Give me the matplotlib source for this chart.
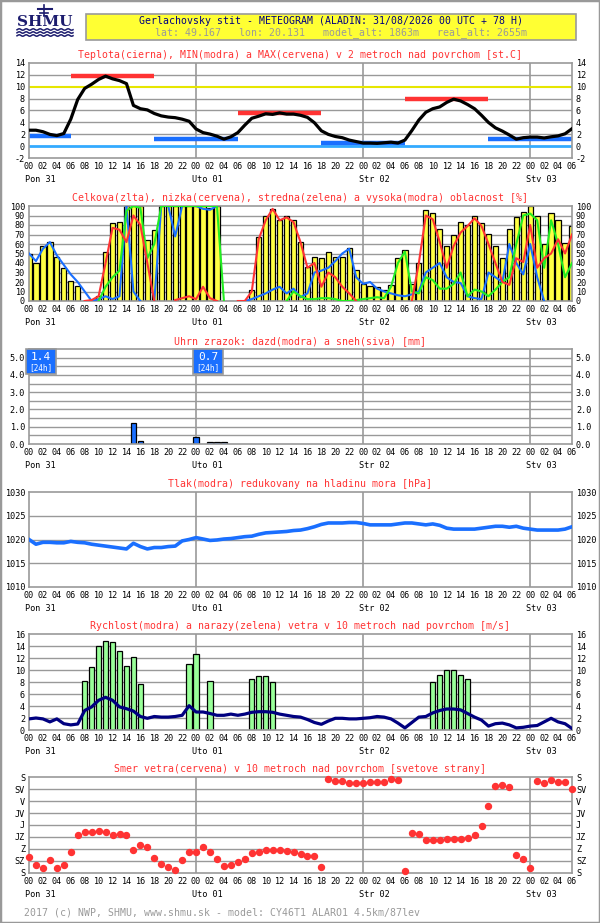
import numpy as np
import matplotlib.pyplot as plt
from matplotlib.patches import Rectangle

# time axis: hourly from 31/08 00 UTC, +78 h
hours = np.arange(79)
hour_ticks = list(range(0, 79, 2))
hour_labels = ['%02d' % (h % 24) for h in hour_ticks]
day_hours = [0, 24, 48, 72]
day_labels = ['Pon 31', 'Uto 01', 'Str 02', 'Stv 03']

# temperature [st.C]
temp = [2.7, 2.7, 2.45, 2.0, 1.8, 2.15, 4.55, 7.85, 9.7, 10.4,
        11.2, 11.75, 11.3, 11.0, 10.5, 6.85, 6.3, 6.1, 5.5, 5.1,
        4.9, 4.8, 4.55, 4.2, 2.9, 2.3, 2.05, 1.7, 1.2, 1.6,
        2.3, 3.55, 4.7, 5.05, 5.45, 5.35, 5.6, 5.4, 5.4, 5.2,
        4.85, 3.95, 2.6, 2.0, 1.65, 1.45, 1.05, 0.8, 0.55, 0.55,
        0.5, 0.6, 0.7, 0.55, 1.05, 2.65, 4.4, 5.7, 6.3, 6.6,
        7.35, 7.9, 7.6, 7.0, 6.3, 5.2, 4.0, 3.1, 2.55, 1.9,
        1.2, 1.45, 1.55, 1.55, 1.4, 1.6, 1.75, 2.1, 2.95]
tmin_from = [0, 18, 42, 66]
tmin_to = [6, 30, 54, 78]
tmin_val = [1.8, 1.2, 0.5, 1.2]
tmax_from = [6, 30, 54]
tmax_to = [18, 42, 66]
tmax_val = [11.7, 5.6, 7.9]

# cloudiness [%]
nan = np.nan
cloud_total = [50, 40, 58, 62, 46, 35, 21, 16, 0, 0,
               5, 52, 82, 83, 100, 100, 100, 64, 75, 100,
               100, 100, 100, 100, 100, 100, 98, 100, 0, 0,
               0, 0, 12, 67, 90, 97, 85, 89, 85, 62,
               36, 46, 45, 52, 46, 46, 56, 33, 18, 16,
               15, 12, 17, 45, 54, 18, 40, 96, 93, 76,
               58, 70, 83, 80, 89, 82, 71, 58, 45, 76,
               88, 94, 100, 90, 60, 93, 85, 61, 79]
cloud_low = [nan, nan, nan, nan, nan, nan, nan, nan, 0, 1,
             5, 40, 77, 75, 62, 90, 80, 40, 0, nan,
             nan, 1, 3, 5, 2, 15, 3, 0, nan, nan,
             0, 0, 10, 65, 85, 97, 85, 88, 83, 62,
             35, 40, 15, 30, 25, 15, 8, 0, nan, nan,
             nan, nan, nan, nan, nan, 0, 40, 90, 86, 62,
             35, 58, 72, 79, 87, 79, 60, 40, 20, 17,
             45, 41, 80, 35, 45, 50, 65, 50, 70]
cloud_mid = [nan, nan, nan, nan, nan, nan, nan, nan, nan, nan,
             0, 15, 25, 32, 95, 100, 98, 45, 60, 100,
             100, 100, 100, 100, 100, 100, 100, 100, 0, nan,
             nan, nan, nan, nan, nan, nan, nan, 0, 10, 5,
             2, 2, 3, 3, 2, 0, 0, 1, 2, 3,
             4, 3, 15, 40, 52, 10, 8, 25, 22, 13,
             13, 18, 30, 5, 12, 10, 5, 12, 20, 25,
             60, 90, 92, 85, 35, 85, 60, 25, 40]
cloud_high = [50, 42, 55, 62, 48, 38, 28, 20, 10, 0,
              2, 5, 2, 5, 100, 10, 0, nan, 0, 100,
              100, 68, 100, 100, 100, 97, 96, 100, nan, nan,
              nan, 0, 2, 5, 8, 12, 15, 8, 13, 4,
              8, 30, 32, 35, 42, 50, 55, 25, 18, 20,
              13, 10, 8, 6, 5, 7, 10, 30, 35, 40,
              25, 20, 19, 5, 3, 2, 30, 25, 20, 60,
              40, 28, 60, 25, 0, nan, nan, nan, nan]

# precipitation [mm]
rain_hours = [15, 16, 24, 26, 27, 28]
rain_mm = [1.2, 0.2, 0.4, 0.1, 0.1, 0.1]
sum_days = [0, 24]
sum_mm = [1.4, 0.7]

# sea level pressure [hPa]
pressure = [1020.0, 1019.0, 1019.4, 1019.4, 1019.3, 1019.3, 1019.6, 1019.4, 1019.3, 1019.0,
            1018.8, 1018.6, 1018.4, 1018.2, 1018.0, 1019.2, 1018.5, 1018.0, 1018.3, 1018.3,
            1018.5, 1018.6, 1019.7, 1020.0, 1020.4, 1020.1, 1019.8, 1019.9, 1020.1, 1020.2,
            1020.4, 1020.6, 1020.7, 1021.1, 1021.4, 1021.5, 1021.6, 1021.7, 1021.9, 1022.0,
            1022.3, 1022.7, 1023.2, 1023.5, 1023.5, 1023.5, 1023.6, 1023.6, 1023.4, 1023.1,
            1023.1, 1023.1, 1023.1, 1023.3, 1023.5, 1023.5, 1023.3, 1023.1, 1023.3, 1023.0,
            1022.4, 1022.2, 1022.2, 1022.2, 1022.2, 1022.4, 1022.6, 1022.8, 1022.8, 1022.6,
            1022.8, 1022.4, 1022.2, 1022.0, 1022.0, 1022.0, 1022.0, 1022.2, 1022.7]

# wind speed and gusts [m/s]
wind = [1.9, 2.05, 1.9, 1.4, 1.9, 1.1, 0.9, 1.05, 3.3, 3.9,
        5.0, 5.5, 5.0, 3.9, 3.6, 3.2, 2.3, 2.0, 2.3, 2.2,
        2.2, 2.3, 2.5, 4.1, 3.05, 3.05, 2.8, 2.5, 2.5, 2.7,
        2.5, 2.7, 3.0, 3.1, 3.1, 3.0, 2.7, 2.5, 2.3, 2.2,
        1.8, 1.3, 1.0, 1.55, 2.0, 2.0, 1.9, 1.9, 2.0, 2.1,
        2.3, 2.2, 1.9, 1.2, 0.4, 1.3, 2.2, 2.3, 2.9, 3.3,
        3.55, 3.55, 3.4, 2.8, 2.2, 1.7, 0.7, 1.1, 1.2, 0.9,
        0.4, 0.5, 0.7, 0.8, 1.4, 2.0, 1.4, 1.1, 0.3]
gust_hours = [8, 9, 10, 11, 12, 13, 14, 15, 16, 23, 24, 26,
              32, 33, 34, 35, 58, 59, 60, 61, 62, 63]
gust = [8.3, 10.5, 14.0, 14.9, 14.7, 13.2, 10.7, 12.3, 7.7, 11.0, 12.7, 8.3,
        8.5, 9.0, 9.0, 8.0, 8.0, 9.3, 10.0, 10.0, 9.3, 8.5]

# wind direction [deg]
wind_dir = [301, 332, 344, 312, 342, 332, 282, 218, 207, 207,
            203, 207, 218, 214, 218, 275, 256, 263, 305, 327,
            339, 351, 312, 282, 282, 263, 282, 310, 336, 332,
            320, 308, 286, 282, 275, 275, 275, 278, 282, 290,
            297, 297, 339, 7, 14, 14, 22, 22, 22, 18,
            18, 18, 7, 11, 355, 210, 214, 237, 237, 237,
            233, 233, 233, 229, 218, 184, 109, 33, 29, 37,
            293, 308, 342, 14, 22, 11, 18, 18, 44]
dir_ticks = [360, 315, 270, 225, 180, 135, 90, 45, 0]
dir_labels = ['S', 'SZ', 'Z', 'JZ', 'J', 'JV', 'V', 'SV', 'S']

GRID = '#999999'
RED = '#ff3333'
BLUE = '#1a6fff'
MONO = 'DejaVu Sans Mono'
TXT = 7.1
TICK = 6.1
W, H = 600, 923
X0, X1 = 29, 572

plt.rcParams['font.family'] = MONO
fig = plt.figure(figsize=(W / 100, H / 100), dpi=100)
fig.patch.set_facecolor('white')


def hx(h):
    return X0 + (X1 - X0) * h / 78.0


def panel(top, bottom, ylim, yticks, ylabels, grid, title):
    ax = fig.add_axes([X0 / W, 1 - bottom / H, (X1 - X0) / W, (bottom - top) / H])
    ax.set_xlim(0, 78)
    ax.set_ylim(*ylim)
    for y in grid:
        ax.axhline(y, color=GRID, lw=1.0, zorder=0)
    for d in day_hours[1:]:
        ax.axvline(d, color=GRID, lw=1.2, zorder=0)
    ax.set_xticks(hour_ticks)
    ax.set_xticklabels(hour_labels)
    ax.set_yticks(yticks)
    ax.set_yticklabels(ylabels)
    ax.tick_params(labelright=True, length=0, labelsize=TICK, pad=2.8)
    for s in ax.spines.values():
        s.set_color(GRID)
        s.set_linewidth(1.2)
    fig.text(0.5, 1 - (top - 8) / H, title, color=RED, fontsize=TXT,
             ha='center', va='center')
    for d, lab in zip(day_hours, day_labels):
        fig.text((hx(d) - 4) / W, 1 - (bottom + 21.5) / H, lab, fontsize=TICK,
                 ha='left', va='center')
    return ax


# header
fig.add_artist(Rectangle((0, 0), 1, 1, transform=fig.transFigure, fill=False,
                         ec=GRID, lw=2.5))
fig.add_artist(Rectangle((86 / W, 1 - 39.5 / H), 490 / W, 26 / H,
                         transform=fig.transFigure, fc='#ffff33', ec=GRID, lw=1.2))
fig.text(331 / W, 1 - 20.5 / H,
         'Gerlachovsky stit - METEOGRAM (ALADIN: 31/08/2026 00 UTC + 78 H)',
         color='#000080', fontsize=TXT, ha='center', va='center')
fig.text(341 / W, 1 - 33 / H,
         'lat: 49.167   lon: 20.131   model_alt: 1863m   real_alt: 2655m',
         color='#999999', fontsize=TXT, ha='center', va='center')

# logo
lg = fig.add_axes([14 / W, 1 - 38 / H, 62 / W, 34 / H])
lg.set_xlim(0, 62)
lg.set_ylim(34, 0)
lg.axis('off')
xs = np.linspace(3, 59, 120)
for yy in (25.5, 28.5, 31.5):
    lg.plot(xs, yy + 0.7 * np.sin(xs * 0.9), color='#1c1c6e', lw=1.1)
lg.text(31, 17.5, 'SHMU', fontsize=11, fontweight='bold', family='DejaVu Serif',
        color='#1c1c6e', ha='center', va='center')
lg.plot([30, 30], [1, 12], color='#1c1c6e', lw=1.2)
lg.plot([24, 38], [5, 5], color='#1c1c6e', lw=1.5)
lg.plot([26, 34], [9, 9], color='#1c1c6e', lw=1.2)

# 1) temperature
ax = panel(62.7, 158.3, (-2, 14), range(-2, 15, 2),
           [str(v) for v in range(-2, 15, 2)], [2, 4, 6, 8, 12],
           'Teplota(cierna), MIN(modra) a MAX(cervena) v 2 metroch nad povrchom [st.C]')
ax.axhline(10, color='#e6e600', lw=1.5, zorder=1)
ax.axhline(0, color='#33aaff', lw=2.0, zorder=1)
ax.hlines(tmin_val, tmin_from, tmin_to, color=BLUE, lw=3.2, zorder=2)
ax.hlines(tmax_val, tmax_from, tmax_to, color=RED, lw=3.2, zorder=2)
ax.plot(hours, temp, color='black', lw=2.3, zorder=3)

# 2) cloudiness
ax = panel(206, 301, (0, 100), range(0, 101, 10),
           [str(v) for v in range(0, 101, 10)], range(10, 100, 10),
           'Celkova(zlta), nizka(cervena), stredna(zelena) a vysoka(modra) oblacnost [%]')
ax.bar(hours, cloud_total, width=0.76, color='#ffff44', edgecolor='black',
       lw=0.9, zorder=2)
ax.plot(hours, cloud_high, color=BLUE, lw=1.5, zorder=3)
ax.plot(hours, cloud_mid, color='#22ee22', lw=1.5, zorder=4)
ax.plot(hours, cloud_low, color=RED, lw=1.5, zorder=5)

# 3) precipitation
ax = panel(349, 444, (0, 5.5), np.arange(0, 5.1, 1.0),
           ['%.1f' % v for v in np.arange(0, 5.1, 1.0)], np.arange(0.5, 5.5, 0.5),
           'Uhrn zrazok: dazd(modra) a sneh(siva) [mm]')
ax.bar(rain_hours, rain_mm, width=0.8, color=BLUE, edgecolor='black', lw=0.9, zorder=2)
for d, s in zip(sum_days, sum_mm):
    ax.add_patch(Rectangle((d - 0.4, 4.08), 4.3, 1.42, fc=BLUE, ec=GRID, lw=1.2,
                           zorder=4, clip_on=False))
    ax.text(d + 1.75, 5.05, '%.1f' % s, color='white', fontsize=8,
            ha='center', va='center', zorder=5)
    ax.text(d + 1.75, 4.45, '[24h]', color='white', fontsize=5.6,
            ha='center', va='center', zorder=5)

# 4) pressure
ax = panel(492.3, 586.7, (1010, 1030), range(1010, 1031, 5),
           [str(v) for v in range(1010, 1031, 5)], [1015, 1020, 1025],
           'Tlak(modra) redukovany na hladinu mora [hPa]')
ax.plot(hours, pressure, color=BLUE, lw=2.6, zorder=3)

# 5) wind speed and gusts
ax = panel(634.3, 730.3, (0, 16), range(0, 17, 2),
           [str(v) for v in range(0, 17, 2)], range(2, 16, 2),
           'Rychlost(modra) a narazy(zelena) vetra v 10 metroch nad povrchom [m/s]')
ax.bar(gust_hours, gust, width=0.78, color='#99ff99', edgecolor='black', lw=0.9, zorder=2)
ax.plot(hours, wind, color='#000080', lw=2.3, zorder=3)

# 6) wind direction
ax = panel(777.3, 872.7, (360, 0), dir_ticks, dir_labels, dir_ticks[1:-1],
           'Smer vetra(cervena) v 10 metroch nad povrchom [svetove strany]')
ax.plot(hours, wind_dir, 'o', color=RED, ms=4.3, mec=RED, zorder=3, clip_on=False)

fig.text(24 / W, 1 - 912.5 / H,
         '2017 (c) NWP, SHMU, www.shmu.sk - model: CY46T1 ALARO1 4.5km/87lev',
         color='#999999', fontsize=TXT, ha='left', va='center')

fig.savefig('out.png', dpi=100)
